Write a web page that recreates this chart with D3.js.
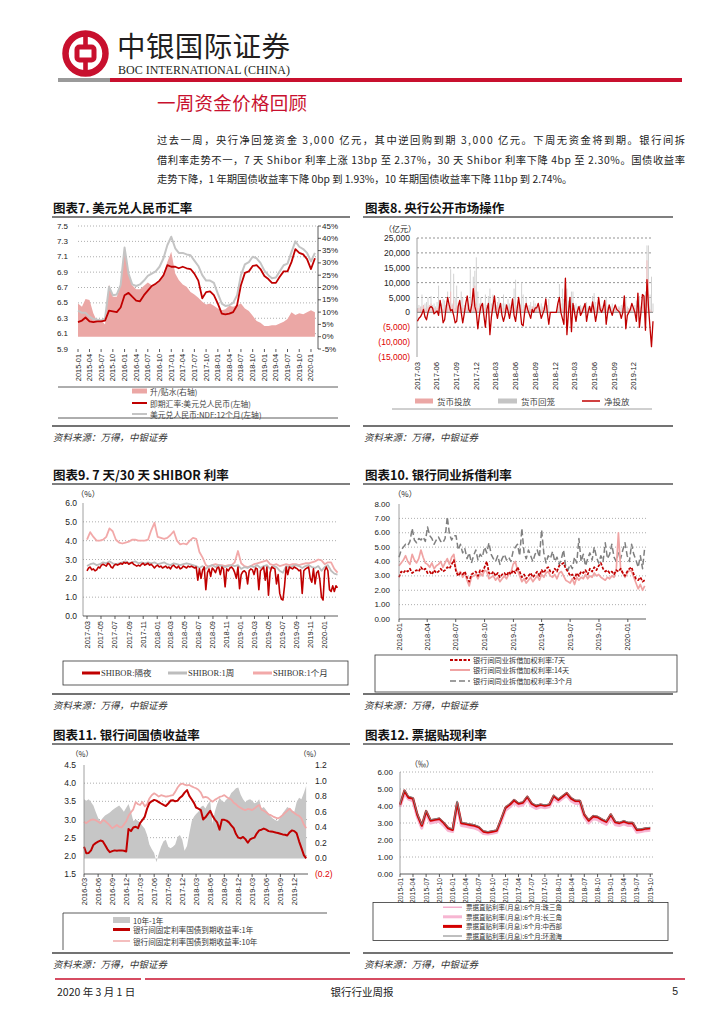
<!DOCTYPE html>
<html><head><meta charset="utf-8">
<script src="https://cdn.jsdelivr.net/npm/d3@7"></script>
<style>
body{margin:0;background:#fff;}
svg{display:block;}
</style></head><body>
<svg id="page" width="724" height="1024"></svg>
<script>
// ================= DATA =================
// Chart 7: USD/CNY (monthly from 2015-01)
const c7Start = "2015-01";
const c7Ticks = ["2015-01","2015-04","2015-07","2015-10","2016-01","2016-04","2016-07","2016-10","2017-01","2017-04","2017-07","2017-10","2018-01","2018-04","2018-07","2018-10","2019-01","2019-04","2019-07","2019-10","2020-01"];
const c7Spot = [6.25,6.27,6.31,6.26,6.25,6.26,6.26,6.27,6.40,6.39,6.38,6.44,6.60,6.63,6.58,6.53,6.52,6.60,6.66,6.72,6.75,6.79,6.86,6.99,6.97,6.97,6.95,6.97,6.95,6.94,6.88,6.79,6.56,6.64,6.65,6.60,6.49,6.36,6.35,6.36,6.38,6.47,6.73,6.89,6.91,6.98,6.99,6.94,6.85,6.81,6.76,6.76,6.84,6.91,6.91,7.03,7.20,7.15,7.13,7.07,6.94,7.08];
const c7Ndf = [6.40,6.37,6.37,6.32,6.29,6.28,6.27,6.30,6.71,6.60,6.61,6.73,7.22,6.88,6.74,6.72,6.74,6.79,6.85,6.88,6.91,6.97,7.08,7.25,7.36,7.21,7.15,7.15,7.13,7.12,7.05,6.98,6.86,6.79,6.79,6.76,6.62,6.49,6.46,6.47,6.50,6.60,6.86,7.00,7.03,7.10,7.08,7.02,6.92,6.86,6.82,6.83,6.91,6.99,7.01,7.16,7.30,7.23,7.20,7.15,7.04,7.15];
const c7Spread = [13.5,12.2,15.3,14.9,9.5,6.1,6.8,5.0,21.2,16.2,16.2,20.9,35.8,25.7,20.9,19.3,19.3,20.7,22.0,20.9,21.6,22.6,25.7,30.4,34.5,25.7,23.0,21.2,20.3,18.2,17.2,15.8,14.2,13.1,13.5,12.6,11.5,10.8,11.2,12.6,12.2,12.8,13.5,11.5,10.4,8.5,6.4,5.7,4.3,4.3,4.7,4.7,5.4,6.1,7.2,9.9,8.8,9.5,9.1,9.9,10.8,9.9];
const c7LeftTicks = [5.9,6.1,6.3,6.5,6.7,6.9,7.1,7.3,7.5];
const c7RightTicks = [-5,0,5,10,15,20,25,30,35,40,45];
const c7Legend = ["升/贴水(右轴)","即期汇率:美元兑人民币(左轴)","美元兑人民币:NDF:12个月(左轴)"];

// Chart 8: open market operations (weekly from 2017-03-03), 亿元
const c8Start = "2017-03-03";
const c8Ticks = ["2017-03","2017-06","2017-09","2017-12","2018-03","2018-06","2018-09","2018-12","2019-03","2019-06","2019-09","2019-12"];
const c8Net = [-3000,-2000,-1500,-500,1000,-1500,-2500,0,1500,2000,
1500,-500,0,500,-1000,4000,1000,-3500,-2500,1500,
5000,2500,500,1000,-1000,-3500,-3000,2000,4000,0,
-3500,-500,3000,5500,1000,0,2500,8000,2000,0,
-5500,-1000,2000,3000,-1000,-5000,1000,3000,-7500,-1500,
2000,5500,500,-2000,1000,3000,-1000,-3000,-1000,2500,
500,-2000,1000,4500,-1000,-3000,1000,5000,1000,-4000,
-4500,0,3000,1000,-500,-2000,1000,0,1500,1500,
3000,500,-2000,-500,1000,4500,0,-4000,0,0,
0,0,0,3000,5000,0,-2000,-4000,11500,-7500,
0,5000,-6500,3000,0,-3000,500,2000,-1000,0,
1500,3000,-3000,0,2000,0,3500,500,-3000,0,
5000,1000,0,1500,4000,-4000,0,2500,500,-1000,
1000,2500,1000,500,0,-2000,0,5500,-5500,-1000,
0,1000,3000,1500,0,-3000,6500,-5000,0,6000,
5500,-6000,11000,2000,-5000,-11500,-3000];
const c8Withdraw = [1500,2500,2000,6000,2500,3000,3500,5000,2000,5500,
2500,3000,2000,3500,9000,2000,3000,4500,4000,2500,
7000,2000,14500,3000,13000,5000,9000,2000,1500,7000,
5000,2500,2000,1500,3000,14500,2000,12000,14000,18500,
7000,3000,5000,2000,3000,6000,2500,5500,8000,3000,
6000,2000,2500,3500,5000,2000,3000,6000,3000,2000,
4500,3000,2500,2000,8000,11000,2500,2000,3000,10000,
6000,2500,5000,2000,2500,3500,2000,4000,3000,2000,
1500,2000,3000,2000,2000,4000,2500,4500,0,0,
0,0,0,2000,9500,3000,8000,4500,2000,8000,
4000,2000,7000,7000,2500,3000,2000,1500,2500,2000,
2000,1500,3500,2000,1500,2000,5500,6500,3500,2000,
4000,1500,2000,2500,2000,5000,2000,1500,2000,3000,
1500,2000,1500,2000,2000,2500,1500,2000,5000,2000,
1500,2000,1500,2000,2500,4000,2000,5500,2000,2000,
3000,7000,22500,22500,6000,12000,3000];
const c8Inject = [1000,1500,1000,2000,2500,1500,1000,2000,2500,3000,
2000,1500,1000,1500,2000,4000,2500,1000,1500,2500,
5000,3000,7000,2500,4000,1500,2000,3000,4000,2000,
1500,1500,3000,5500,2500,2000,3000,8000,9000,3000,
1500,2000,3000,3000,1500,1000,2500,3000,500,1500,
2500,5500,2000,1500,2000,3000,1500,1000,1500,2500,
2000,1000,2000,4500,1500,1000,2000,5000,2500,1000,
1000,2000,3000,2000,1500,1000,2000,2000,1500,1500,
3000,1500,1000,1500,2000,4500,1500,500,0,0,
0,0,0,3000,5000,1500,1000,500,11500,500,
1500,5000,500,3000,1500,500,1500,2000,1000,1500,
1500,3000,500,1500,2000,1500,3500,2000,500,1500,
5000,1500,1500,1500,4000,1000,1500,2500,1500,1000,
1000,2500,1000,1500,1500,500,1000,5500,500,1000,
1500,1000,3000,1500,1500,1000,6500,500,1500,6000,
5500,1000,17500,11000,1000,500,0];
const c8YTicks = [-15000,-10000,-5000,0,5000,10000,15000,20000,25000];
const c8Legend = ["货币投放","货币回笼","净投放"];

// Chart 9: SHIBOR (O/N weekly, 1W & 1M biweekly from 2017-03-01)
const c9Start = "2017-03-01";
const c9Ticks = ["2017-03","2017-05","2017-07","2017-09","2017-11","2018-01","2018-03","2018-05","2018-07","2018-09","2018-11","2019-01","2019-03","2019-05","2019-07","2019-09","2019-11","2020-01"];
const c9ON = [2.40,2.55,2.60,2.45,2.50,2.40,2.45,2.60,2.55,2.70,
2.75,2.70,2.65,2.80,2.75,2.60,2.55,2.70,2.75,2.70,
2.75,2.80,2.75,2.85,2.80,2.85,2.75,2.80,2.85,2.75,
2.70,2.65,2.70,2.65,2.75,2.80,2.70,2.75,2.80,2.70,
2.75,2.65,2.55,2.65,2.70,2.60,2.65,2.55,2.60,2.65,
2.55,2.60,2.50,2.65,2.70,2.60,2.55,2.65,2.50,2.55,
2.65,2.60,2.55,2.65,2.60,2.65,2.60,2.55,2.60,1.90,
2.50,2.00,2.45,2.60,1.40,2.30,2.50,2.10,2.55,2.45,
2.30,2.55,2.60,2.20,2.60,2.50,1.55,2.50,2.40,2.55,
2.60,2.50,2.30,2.00,2.60,1.45,2.20,2.35,2.40,2.30,
1.70,2.40,2.50,2.45,2.20,2.55,2.50,1.40,2.40,2.50,
2.60,1.90,2.60,1.10,2.30,2.60,2.55,2.50,1.70,2.20,
1.20,0.90,0.85,1.60,2.60,2.20,2.60,2.55,2.50,2.60,
2.55,2.50,2.40,2.45,1.20,2.40,2.50,2.55,2.60,2.00,
1.80,2.50,1.70,2.30,2.40,1.90,1.00,0.85,2.40,2.60,
2.40,1.40,1.30,1.60,1.30,1.60,1.50];
const c91W = [2.65,2.75,2.80,2.70,2.75,2.85,2.80,2.90,2.80,2.75,
2.80,2.85,2.90,2.80,2.85,2.90,2.80,2.85,2.80,2.85,
2.80,2.85,2.75,2.80,2.85,2.75,2.70,2.80,2.75,2.70,
2.75,2.80,2.75,2.70,2.65,2.55,2.65,2.50,2.65,2.70,
2.60,2.70,2.65,2.60,2.65,2.70,2.65,2.70,2.50,2.60,
2.55,2.65,2.60,2.70,2.55,2.65,2.70,2.50,2.65,2.60,
2.40,2.30,2.65,2.60,2.65,2.70,2.65,2.55,2.65,2.70,
2.60,2.55,2.65,2.40,2.60,2.70,2.40,2.25,2.20];
const c91M = [4.05,4.45,4.20,4.00,4.00,4.05,4.20,4.65,4.50,4.05,
3.90,3.85,3.90,3.95,4.05,4.05,4.00,4.00,4.00,4.05,
4.55,4.95,4.20,4.15,4.10,4.15,4.30,4.50,4.00,3.80,
3.85,3.80,4.00,4.15,4.10,3.40,3.10,2.70,2.60,2.70,
2.75,2.70,2.70,2.65,2.70,2.70,2.85,3.45,2.80,2.65,
2.60,2.65,2.75,2.80,2.85,2.90,2.95,2.75,2.70,2.75,
2.65,2.70,2.75,2.70,2.75,2.75,2.70,2.75,2.80,2.80,
2.85,2.90,3.00,2.95,2.75,2.85,2.85,2.50,2.30];
const c9YTicks = [0,1,2,3,4,5,6];
const c9Legend = ["SHIBOR:隔夜","SHIBOR:1周","SHIBOR:1个月"];

// Chart 10: interbank lending rates (weekly from 2018-01-01)
const c10Start = "2018-01-01";
const c10Ticks = ["2018-01","2018-04","2018-07","2018-10","2019-01","2019-04","2019-07","2019-10","2020-01"];
const c10D7 = [2.9,3.3,3.2,3.4,3.3, 3.5,3.2,3.3,3.4, 3.3,3.6,3.4,3.5,
3.2,3.3,3.1,3.4,3.2, 3.3,3.5,3.3,3.4, 3.6,3.5,3.8,4.1,
3.3,3.0,3.2,3.1,3.3, 2.9,2.6,3.1,3.2, 3.3,3.0,3.4,3.3,
3.6,4.0,3.2,3.1,3.3, 3.0,3.2,2.9,3.1, 3.2,3.0,3.3,3.1,
3.4,3.2,3.6,3.3,2.9, 3.1,2.8,3.0,3.2, 2.9,3.1,3.3,3.0,
3.4,3.2,3.5,3.6,3.3, 3.2,3.5,3.3,3.7, 3.8,3.9,3.5,3.3,
3.0,3.1,2.8,3.2,3.0, 3.3,3.2,3.4,3.1, 3.5,3.3,3.6,3.4,
3.7,3.9,3.5,3.3,3.4, 3.2,3.3,3.1,3.4, 3.3,3.5,3.2,3.0,
3.3,3.5,3.6,3.1,2.8, 2.7,2.9,2.6,2.7];
const c10D14 = [3.7,3.9,4.1,4.4,4.0, 3.8,4.5,4.1,3.9, 4.2,4.8,4.3,3.9,
3.8,3.6,3.9,3.5,3.7, 3.8,4.0,3.6,3.9, 4.2,3.8,4.3,4.5,
3.4,3.1,3.3,2.9,3.2, 2.7,2.3,2.9,3.0, 3.1,2.8,3.2,3.0,
3.4,3.3,2.8,2.9,3.0, 2.7,2.9,2.6,2.8, 3.0,2.8,3.1,3.2,
3.8,4.0,3.4,3.0,2.6, 2.8,2.5,2.7,2.9, 2.6,2.8,3.0,2.7,
3.1,2.9,3.2,3.3,3.0, 2.9,3.1,2.8,3.2, 3.3,3.0,2.7,2.6,
2.5,2.8,2.4,2.9,2.7, 2.9,2.8,3.1,2.8, 3.0,2.9,3.2,3.0,
3.1,2.9,2.8,2.7,2.9, 2.8,3.0,2.9,3.4, 6.0,3.5,3.2,2.9,
3.2,3.4,3.3,2.9,2.5, 2.1,2.4,2.0,2.3];
const c10M3 = [4.3,4.8,5.0,5.2,5.1, 5.4,6.3,5.5,5.3, 5.6,5.5,5.7,5.4,
6.4,5.8,5.6,5.2,5.5, 5.7,5.4,5.3,5.6, 7.1,5.9,5.5,5.8,
5.8,4.8,5.2,4.6,4.9, 4.2,4.6,3.9,4.4, 4.8,4.1,4.5,4.3,
5.0,4.6,5.3,4.5,4.2, 4.0,4.4,3.8,4.2, 4.5,4.1,4.3,4.0,
4.7,5.0,5.2,4.4,6.3, 4.6,4.2,4.8,4.4, 4.0,4.5,4.8,4.3,
6.2,4.6,3.9,4.4,4.2, 4.7,4.0,4.3,3.8, 4.2,4.8,3.6,3.4,
3.8,3.5,4.3,3.9,5.6, 4.0,4.5,3.7,4.2, 4.6,4.1,5.0,4.3,
3.9,4.4,4.0,5.3,4.2, 4.5,5.2,4.3,4.0, 4.6,4.2,4.8,5.3,
4.4,4.0,5.2,4.5,4.1, 3.6,4.4,3.5,5.0];
const c10YTicks = [0,1,2,3,4,5,6,7,8];
const c10Legend = ["银行间同业拆借加权利率:7天","银行间同业拆借加权利率:14天","银行间同业拆借加权利率:3个月"];

// Chart 11: treasury yields (semi-monthly from 2016-03)
const c11Start = "2016-03";
const c11Ticks = ["2016-03","2016-06","2016-09","2016-12","2017-03","2017-06","2017-09","2017-12","2018-03","2018-06","2018-09","2018-12","2019-03","2019-06","2019-09","2019-12"];
const c11Y1 = [2.25,2.07,2.08,2.15,2.30,2.35,2.39,2.42,2.40,2.30,
2.18,2.10,2.13,2.15,2.14,2.15,2.15,2.14,2.12,2.74,
2.68,2.78,2.80,2.76,2.90,2.98,3.08,3.30,3.45,3.50,
3.54,3.52,3.48,3.44,3.40,3.37,3.44,3.52,3.53,3.50,
3.52,3.60,3.65,3.74,3.81,3.65,3.55,3.45,3.33,3.30,
3.26,3.00,3.06,3.15,3.24,3.10,3.00,2.92,2.72,2.99,
2.99,2.97,2.92,2.84,2.76,2.60,2.50,2.48,2.52,2.46,
2.36,2.45,2.48,2.50,2.62,2.70,2.72,2.75,2.72,2.68,
2.67,2.66,2.64,2.63,2.61,2.59,2.58,2.56,2.65,2.70,
2.68,2.62,2.40,2.22,2.02,1.93];
const c11Y10 = [2.94,2.90,2.95,2.99,3.00,2.98,2.94,2.90,2.98,2.96,
2.90,2.84,2.76,2.80,2.85,2.80,2.78,2.86,2.95,3.10,
3.20,3.28,3.48,3.42,3.40,3.48,3.36,3.42,3.58,3.67,
3.72,3.68,3.63,3.67,3.65,3.63,3.64,3.66,3.67,3.76,
3.88,3.96,3.99,3.96,3.94,3.95,3.91,3.88,3.86,3.82,
3.74,3.60,3.62,3.60,3.54,3.49,3.54,3.58,3.62,3.64,
3.67,3.62,3.58,3.55,3.46,3.42,3.36,3.32,3.28,3.26,
3.29,3.28,3.26,3.30,3.36,3.40,3.27,3.24,3.20,3.14,
3.12,3.08,3.05,3.03,3.07,3.12,3.18,3.24,3.30,3.22,
3.18,3.13,3.10,3.03,2.86,2.76];
const c11Spread = [0.76,0.74,0.76,0.72,0.68,0.60,0.52,0.48,0.52,0.55,
0.57,0.59,0.62,0.64,0.66,0.68,0.64,0.60,0.65,0.70,
0.60,0.48,0.50,0.48,0.46,0.42,0.38,0.30,0.18,0.12,
0.07,-0.05,0.06,0.15,0.22,0.24,0.15,0.13,0.15,0.18,
0.28,0.30,0.24,0.10,0.16,0.32,0.48,0.54,0.57,0.60,
0.66,0.68,0.64,0.70,0.74,0.45,0.60,0.70,0.78,0.74,
0.72,0.76,0.78,0.84,0.87,0.90,0.91,0.82,0.76,0.72,
0.75,0.76,0.74,0.71,0.72,0.76,0.64,0.66,0.62,0.58,
0.54,0.51,0.49,0.48,0.53,0.58,0.62,0.66,0.64,0.62,
0.60,0.72,0.78,0.76,0.84,0.93];
const c11LeftTicks = [1.5,2.0,2.5,3.0,3.5,4.0,4.5];
const c11RightTicks = [-0.2,0.0,0.2,0.4,0.6,0.8,1.0,1.2];
const c11Legend = ["10年-1年","银行间固定利率国债到期收益率:1年","银行间固定利率国债到期收益率:10年"];

// Chart 12: bill discount rates (monthly from 2015-01), ‰
const c12Start = "2015-01";
const c12Ticks = ["2015-01","2015-04","2015-07","2015-10","2016-01","2016-04","2016-07","2016-10","2017-01","2017-04","2017-07","2017-10","2018-01","2018-04","2018-07","2018-10","2019-01","2019-04","2019-07","2019-10"];
const c12PRD = [4.02,4.82,4.45,4.38,3.42,2.78,3.62,3.08,3.12,3.18,2.92,2.62,2.55,4.1,2.92,2.88,2.82,2.78,2.68,2.44,2.4,2.45,2.5,3.12,3.82,4.02,4.28,4.08,4.12,4.48,4.08,3.92,4.0,3.95,4.02,4.52,4.3,4.5,4.7,4.38,4.22,4.22,3.42,3.08,3.32,3.28,3.12,3.0,3.4,2.98,2.92,3.02,2.92,2.92,2.52,2.55,2.6,2.64];
const c12YRD = [3.95,4.75,4.4,4.3,3.35,2.7,3.55,3.0,3.05,3.1,2.85,2.55,2.5,4.0,2.85,2.8,2.75,2.7,2.6,2.38,2.35,2.4,2.45,3.05,3.75,3.95,4.2,4.0,4.05,4.4,4.0,3.85,3.95,3.9,3.95,4.45,4.25,4.45,4.62,4.3,4.15,4.15,3.35,3.0,3.25,3.2,3.05,2.92,3.3,2.9,2.85,2.95,2.85,2.85,2.45,2.5,2.55,2.58];
const c12Mid = [4.08,4.9,4.5,4.45,3.5,2.85,3.7,3.15,3.2,3.25,3.0,2.7,2.6,4.2,3.0,2.95,2.9,2.85,2.75,2.5,2.45,2.5,2.55,3.2,3.9,4.1,4.35,4.15,4.2,4.55,4.15,4.0,4.08,4.02,4.08,4.6,4.37,4.57,4.76,4.45,4.3,4.3,3.5,3.15,3.4,3.35,3.2,3.08,3.5,3.05,3.0,3.1,3.0,3.0,2.6,2.62,2.68,2.7];
const c12Bohai = [4.12,4.95,4.58,4.5,3.55,2.9,3.75,3.2,3.25,3.3,3.05,2.75,2.65,4.3,3.05,3.0,2.95,2.9,2.8,2.55,2.5,2.55,2.6,3.25,3.95,4.15,4.4,4.2,4.25,4.6,4.2,4.05,4.12,4.07,4.12,4.65,4.42,4.62,4.8,4.5,4.35,4.35,3.55,3.2,3.45,3.4,3.25,3.12,3.55,3.1,3.05,3.15,3.05,3.05,2.65,2.67,2.72,2.75];
const c12YTicks = [0,1,2,3,4,5,6];
const c12Legend = ["票据直贴利率(月息):6个月:珠三角","票据直贴利率(月息):6个月:长三角","票据直贴利率(月息):6个月:中西部","票据直贴利率(月息):6个月:环渤海"];

// ================= DRAWING =================
const svg = d3.select("#page");
const CJK = '"Noto Sans CJK SC", sans-serif';
const NUM = '"Liberation Sans", Arial, sans-serif';
const SERIF = '"Liberation Serif", serif';
const RED = "#c00000", BRED = "#c8102e";
const pM = d3.timeParse("%Y-%m"), pD = d3.timeParse("%Y-%m-%d");

function T(x, y, s, o = {}) {
  const t = svg.append("text").attr("x", x).attr("y", y).text(s)
    .attr("font-family", o.ff || CJK).attr("font-size", o.fs || 10)
    .attr("fill", o.fill || "#222").attr("text-anchor", o.anchor || "start")
    .attr("dominant-baseline", "central");
  if (o.fw) t.attr("font-weight", o.fw);
  if (o.italic) t.attr("font-style", "italic");
  if (o.tl) t.attr("textLength", o.tl).attr("lengthAdjust", "spacing");
  return t;
}
function L(x1, y1, x2, y2, c, w, dash) {
  return svg.append("line").attr("x1", x1).attr("y1", y1).attr("x2", x2).attr("y2", y2)
    .attr("stroke", c).attr("stroke-width", w).attr("stroke-dasharray", dash || null);
}
function weekly(start, n, step) { const s = pD(start); return d3.range(n).map(i => d3.timeDay.offset(s, step * i)); }
function monthly(start, n) { const s = pM(start); return d3.range(n).map(i => d3.timeMonth.offset(s, i)); }
function semimonthly(start, n) { const s = pM(start); return d3.range(n).map(i => d3.timeDay.offset(d3.timeMonth.offset(s, Math.floor(i / 2)), (i % 2) * 15)); }
function drawLine(dates, vals, x, y, color, w, dash) {
  const data = vals.map((v, i) => [dates[i], v]);
  svg.append("path").datum(data)
    .attr("d", d3.line().x(d => x(d[0])).y(d => y(d[1])))
    .attr("fill", "none").attr("stroke", color).attr("stroke-width", w)
    .attr("stroke-linejoin", "round").attr("stroke-dasharray", dash || null);
}
function drawArea(dates, vals, x, y, color) {
  const data = vals.map((v, i) => [dates[i], v]);
  svg.append("path").datum(data)
    .attr("d", d3.area().x(d => x(d[0])).y0(y(0)).y1(d => y(d[1])))
    .attr("fill", color).attr("stroke", "none");
}
function xLabels(ticks, x, y0, fs, tickY, tickLen) {
  ticks.forEach(t => {
    const px = x(pM(t));
    svg.append("text").attr("transform", `translate(${px},${y0}) rotate(-90)`)
      .attr("text-anchor", "end").attr("dominant-baseline", "central")
      .attr("font-family", NUM).attr("font-size", fs).attr("fill", "#222").text(t);
    if (tickY != null) L(px, tickY, px, tickY + tickLen, "#333", 0.8);
  });
}
function titleBlock(x, y, s, x1, x2) {
  T(x, y, s, { fs: 12.5, fw: 700, fill: "#111" });
  L(x1, y + 10, x2, y + 10, "#555", 1.5);
}
function sourceBlock(x1, x2, yRule, tx) {
  L(x1, yRule, x2, yRule, "#444", 1.5);
  T(tx, yRule + 11, "资料来源：万得，中银证券", { fs: 9.5, italic: true, fill: "#333" });
}

// ---------- Header ----------
svg.append("circle").attr("cx", 85.5).attr("cy", 53.5).attr("r", 20).attr("fill", "none").attr("stroke", BRED).attr("stroke-width", 6.5);
svg.append("rect").attr("x", 77).attr("y", 47).attr("width", 17).attr("height", 13).attr("rx", 2.5).attr("fill", "none").attr("stroke", BRED).attr("stroke-width", 5);
svg.append("rect").attr("x", 83.2).attr("y", 35).attr("width", 4.6).attr("height", 12).attr("fill", BRED);
svg.append("rect").attr("x", 83.2).attr("y", 60).attr("width", 4.6).attr("height", 12).attr("fill", BRED);
T(117, 44, "中银国际证券", { fs: 28.5, fill: "#231f20", tl: 173 });
T(118, 70, "BOC INTERNATIONAL (CHINA)", { ff: SERIF, fs: 12, fill: "#231f20", tl: 172 });
svg.append("rect").attr("x", 58).attr("y", 78).attr("width", 52).attr("height", 4).attr("fill", "#9a9a9a");
svg.append("rect").attr("x", 110).attr("y", 78).attr("width", 572).attr("height", 4).attr("fill", BRED);
T(157, 102, "一周资金价格回顾", { fs: 18.5, fill: BRED, tl: 150 });

const para = [
  "过去一周，央行净回笼资金 3,000 亿元，其中逆回购到期 3,000 亿元。下周无资金将到期。银行间拆",
  "借利率走势不一，7 天 Shibor 利率上涨 13bp 至 2.37%，30 天 Shibor 利率下降 4bp 至 2.30%。国债收益率",
  "走势下降，1 年期国债收益率下降 0bp 到 1.93%，10 年期国债收益率下降 11bp 到 2.74%。"];
T(157, 139, para[0], { fs: 10.3, tl: 528 });
T(157, 159, para[1], { fs: 10.3, tl: 528 });
T(157, 178, para[2], { fs: 10.3 });

// ---------- Chart 7 ----------
titleBlock(53, 207, "图表7. 美元兑人民币汇率", 52, 350);
{
  const dates = monthly(c7Start, c7Spot.length);
  const x = d3.scaleTime().domain([pM("2015-01"), pD("2020-02-25")]).range([78, 318]);
  const yL = d3.scaleLinear().domain([5.9, 7.5]).range([349, 226]);
  const yR = d3.scaleLinear().domain([-5, 45]).range([349, 226]);
  c7LeftTicks.forEach(v => { if (v > 5.9) L(78, yL(v), 318, yL(v), "#999", 0.8, "1,2"); T(68, yL(v), d3.format(".1f")(v), { ff: NUM, fs: 8, anchor: "end" }); });
  drawArea(dates, c7Spread, x, yR, "#eba7a5");
  drawLine(dates, c7Ndf, x, yL, "#c4c4c4", 2);
  drawLine(dates, c7Spot, x, yL, RED, 1.8);
  L(318, 226, 318, 349, "#333", 0.8);
  c7RightTicks.forEach(v => { L(318, yR(v), 321, yR(v), "#333", 0.8); T(322, yR(v), v + "%", { ff: NUM, fs: 8 }); });
  xLabels(c7Ticks, x, 354, 7.4, 349, 3);
  L(58, 387, 338, 387, "#333", 0.8);
  L(58, 418, 338, 418, "#333", 0.8);
  svg.append("rect").attr("x", 132).attr("y", 388.5).attr("width", 15).attr("height", 5).attr("fill", "#eba7a5");
  L(132, 403, 147, 403, RED, 2);
  L(132, 414, 147, 414, "#c4c4c4", 2);
  c7Legend.forEach((s, i) => T(150, [391, 403, 414][i], s, { fs: 7.8, fill: "#444" }));
}
sourceBlock(52, 350, 426, 53);

// ---------- Chart 8 ----------
titleBlock(365, 207, "图表8. 央行公开市场操作", 363, 673);
{
  const dates = weekly(c8Start, c8Net.length, 7);
  const x = d3.scaleTime().domain([pM("2017-03"), pD("2020-02-28")]).range([417, 653]);
  const y = d3.scaleLinear().domain([-15000, 25000]).range([357, 238]);
  T(400, 228, "（亿元）", { fs: 8, anchor: "middle" });
  c8YTicks.forEach(v => {
    if (v >= -5000 && v !== 0) L(417, y(v), 653, y(v), "#666", 0.7, "2,2");
    const lab = v < 0 ? "(" + d3.format(",")(-v) + ")" : d3.format(",")(v);
    T(410, y(v), lab, { ff: NUM, fs: 8.5, anchor: "end", fill: v < 0 ? "#e00000" : "#222" });
  });
  c8Withdraw.forEach((v, i) => { if (v > 0) svg.append("rect").attr("x", x(dates[i]) - 0.5).attr("y", y(v)).attr("width", 1).attr("height", y(0) - y(v)).attr("fill", "#d2d2d2"); });
  c8Inject.forEach((v, i) => { if (v > 0) svg.append("rect").attr("x", x(dates[i]) - 0.5).attr("y", y(v)).attr("width", 1).attr("height", y(0) - y(v)).attr("fill", "#f3bcbc"); });
  L(417, y(0), 653, y(0), "#999", 1.3);
  L(417, 238, 417, 357, "#888", 0.8);
  drawLine(dates, c8Net, x, y, RED, 1.3);
  xLabels(c8Ticks, x, 362, 7.6, null, 0);
  svg.append("rect").attr("x", 415).attr("y", 398.5).attr("width", 18).attr("height", 5).attr("fill", "#eba7a5");
  svg.append("rect").attr("x", 498).attr("y", 398.5).attr("width", 19).attr("height", 5).attr("fill", "#c4c4c4");
  L(582, 401, 600, 401, RED, 1.5);
  [437, 521, 604].forEach((px, i) => T(px, 401, c8Legend[i], { fs: 8.5, fill: "#444" }));
  L(392, 409, 652, 409, "#888", 0.8);
}
sourceBlock(363, 673, 426, 364);

// ---------- Chart 9 ----------
titleBlock(53, 474, "图表9. 7 天/30 天 SHIBOR 利率", 52, 350);
{
  const dON = weekly(c9Start, c9ON.length, 7);
  const d2 = weekly(c9Start, c91W.length, 14);
  const x = d3.scaleTime().domain([pM("2017-03"), pD("2020-02-28")]).range([87, 338]);
  const y = d3.scaleLinear().domain([0, 6]).range([616, 503]);
  T(88, 493, "（%）", { fs: 8, anchor: "middle" });
  c9YTicks.forEach(v => { if (v > 0 && v < 6) L(83, y(v), 338, y(v), "#999", 0.8, "1,2"); T(77, y(v), d3.format(".1f")(v), { ff: NUM, fs: 8.5, anchor: "end" }); });
  drawLine(d2, c91M, x, y, "#f2a9a9", 1.8);
  drawLine(d2, c91W, x, y, "#bdbdbd", 1.8);
  drawLine(dON, c9ON, x, y, RED, 1.6);
  L(83, 503, 83, 616, "#888", 0.8);
  L(83, 616, 338, 616, "#333", 0.8);
  xLabels(c9Ticks, x, 621, 7.5, 616, 3);
  svg.append("rect").attr("x", 63).attr("y", 661).attr("width", 285).attr("height", 24).attr("fill", "none").attr("stroke", "#333").attr("stroke-width", 0.8);
  L(82, 673, 100, 673, RED, 3);
  L(168, 673, 187, 673, "#bdbdbd", 3);
  L(253, 673, 272, 673, "#f2a9a9", 3);
  [101, 188, 273].forEach((px, i) => T(px, 673, c9Legend[i], { ff: SERIF + ',' + CJK, fs: 8.5, fill: "#333" }));
}
sourceBlock(52, 350, 694, 53);

// ---------- Chart 10 ----------
titleBlock(365, 474, "图表10. 银行同业拆借利率", 363, 673);
{
  const dates = weekly(c10Start, c10D7.length, 7);
  const x = d3.scaleTime().domain([pM("2018-01"), pD("2020-02-28")]).range([399, 646]);
  const y = d3.scaleLinear().domain([0, 8]).range([619, 504]);
  T(405, 493, "（%）", { fs: 8, anchor: "middle" });
  c10YTicks.forEach(v => { if (v > 0 && v < 8) L(399, y(v), 646, y(v), "#999", 0.8, "1,2"); T(390, y(v), d3.format(".2f")(v), { ff: NUM, fs: 8, anchor: "end" }); });
  drawLine(dates, c10M3, x, y, "#7f7f7f", 1.5, "6,3");
  drawLine(dates, c10D14, x, y, "#f0a3a3", 1.7);
  drawLine(dates, c10D7, x, y, RED, 1.7, "3,1.5");
  L(399, 504, 399, 619, "#888", 0.8);
  L(399, 619, 646, 619, "#333", 0.8);
  xLabels(c10Ticks, x, 623, 7.5, 619, 3);
  svg.append("rect").attr("x", 375).attr("y", 655).attr("width", 302).attr("height", 37).attr("fill", "none").attr("stroke", "#333").attr("stroke-width", 0.8);
  L(450, 660, 470, 660, RED, 2, "3,1.5");
  L(450, 670, 470, 670, "#f0a3a3", 2);
  L(450, 681, 470, 681, "#7f7f7f", 1.5, "6,3");
  c10Legend.forEach((s, i) => T(473, [660, 670, 681][i], s, { fs: 7.2, fill: "#333" }));
}
sourceBlock(363, 673, 694, 364);

// ---------- Chart 11 ----------
titleBlock(53, 734, "图表11. 银行间国债收益率", 52, 350);
{
  const dates = semimonthly(c11Start, c11Y1.length);
  const x = d3.scaleTime().domain([pM("2016-03"), pD("2020-02-28")]).range([84, 308]);
  const yL = d3.scaleLinear().domain([1.5, 4.5]).range([874, 765]);
  const yR = d3.scaleLinear().domain([-0.2, 1.2]).range([874, 765]);
  T(82, 753.5, "（%）", { fs: 7.5, anchor: "middle" });
  T(310, 753.5, "（%）", { fs: 7.5, anchor: "middle" });
  c11LeftTicks.forEach(v => { if (v > 1.5 && v < 4.5) L(84, yL(v), 308, yL(v), "#999", 0.8, "1,2"); T(76, yL(v), d3.format(".1f")(v), { ff: NUM, fs: 8.5, anchor: "end" }); });
  drawArea(dates, c11Spread, x, yR, "#c6c6c6");
  drawLine(dates, c11Y10, x, yL, "#f0a8a8", 1.8);
  drawLine(dates, c11Y1, x, yL, RED, 2);
  c11RightTicks.forEach(v => T(315, yR(v), v < 0 ? "(" + d3.format(".1f")(-v) + ")" : d3.format(".1f")(v), { ff: NUM, fs: 8.5, fill: v < 0 ? "#e00000" : "#222" }));
  L(84, 765, 84, 874, "#888", 0.8);
  L(84, 874, 308, 874, "#333", 0.8);
  xLabels(c11Ticks, x, 878, 7.4, 874, 3);
  L(63, 913, 327, 913, "#333", 0.8);
  L(63, 913, 63, 950, "#333", 0.8);
  svg.append("rect").attr("x", 113).attr("y", 917).attr("width", 17).attr("height", 6).attr("fill", "#c6c6c6");
  L(113, 929.5, 130, 929.5, RED, 3);
  L(113, 941, 130, 941, "#f0a8a8", 1.5);
  c11Legend.forEach((s, i) => T(133, [920, 929.5, 941][i], s, { fs: 7.6, fill: "#333" }));
}
sourceBlock(52, 350, 953, 53);

// ---------- Chart 12 ----------
titleBlock(365, 734, "图表12. 票据贴现利率", 363, 673);
{
  const dates = monthly(c12Start, c12Mid.length);
  const x = d3.scaleTime().domain([pM("2015-01"), pD("2019-10-20")]).range([400, 653]);
  const y = d3.scaleLinear().domain([0, 6]).range([874, 772]);
  T(422, 763, "（‰）", { fs: 8, anchor: "middle" });
  c12YTicks.forEach(v => { if (v > 0) L(400, y(v), 653, y(v), "#999", 0.8, "1,2"); T(393, y(v), d3.format(".2f")(v), { ff: NUM, fs: 8, anchor: "end" }); });
  drawLine(dates, c12YRD, x, y, "#f7b6d2", 3);
  drawLine(dates, c12PRD, x, y, "#f29ac0", 1.2);
  drawLine(dates, c12Mid, x, y, "#d40000", 2.4);
  drawLine(dates, c12Bohai, x, y, "#7f7f7f", 1);
  L(400, 772, 400, 874, "#888", 0.8);
  L(400, 874, 653, 874, "#333", 0.8);
  xLabels(c12Ticks, x, 878, 6.8, 874, 3);
  svg.append("rect").attr("x", 373).attr("y", 902.5).attr("width", 295).attr("height", 38).attr("fill", "none").attr("stroke", "#333").attr("stroke-width", 0.8);
  const ly = [907.2, 916.8, 926.4, 936];
  L(443, ly[0], 462, ly[0], "#f29ac0", 1.2);
  L(443, ly[1], 462, ly[1], "#f7b6d2", 3);
  L(443, ly[2], 462, ly[2], "#d40000", 3);
  L(443, ly[3], 462, ly[3], "#7f7f7f", 1);
  c12Legend.forEach((s, i) => T(466, ly[i], s, { fs: 6.5, fill: "#333" }));
}
sourceBlock(363, 673, 953, 364);

// ---------- Footer ----------
L(55, 979, 141, 979, BRED, 1.5);
L(145, 979, 685, 979, BRED, 1.5);
T(57, 991, "2020 年 3 月 1 日", { fs: 10.5 });
T(362, 991, "银行行业周报", { fs: 10.5, anchor: "middle" });
T(678, 991, "5", { ff: NUM, fs: 10.5, anchor: "end" });
</script>
</body></html>
